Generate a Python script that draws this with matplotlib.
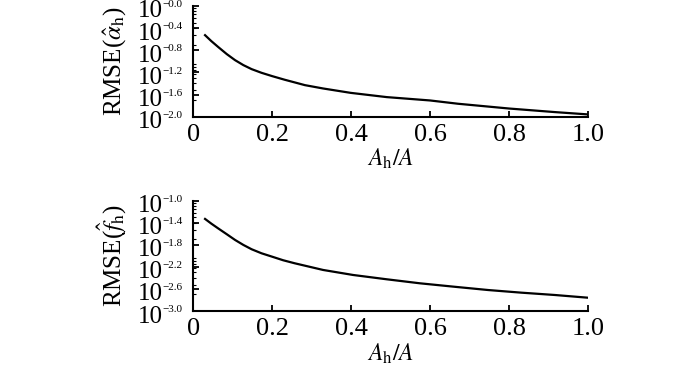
import numpy as np
import matplotlib
matplotlib.use("Agg")
import matplotlib.pyplot as plt
from matplotlib.ticker import FixedLocator, LogLocator, NullFormatter

plt.rcParams['font.family'] = ['Liberation Serif', 'DejaVu Serif']
plt.rcParams['mathtext.fontset'] = 'stix'

# Values
ratio_alpha = [0.03, 0.046, 0.063, 0.085, 0.106, 0.127, 0.148, 0.173, 0.2,
               0.232, 0.257, 0.283, 0.329, 0.399, 0.49, 0.6, 0.671, 0.8,
               0.916, 1.0]
rmse_alpha = [0.296, 0.231, 0.182, 0.135, 0.105, 0.0855, 0.0723, 0.0621,
              0.0541, 0.0465, 0.0417, 0.0372, 0.0324, 0.0270, 0.02265,
              0.0197, 0.01718, 0.0141, 0.01216, 0.01104]

ratio_f = [0.03, 0.046, 0.063, 0.085, 0.106, 0.127, 0.148, 0.173, 0.2,
           0.228, 0.257, 0.329, 0.405, 0.49, 0.574, 0.662, 0.747, 0.831,
           0.916, 1.0]
rmse_f = [0.0468, 0.0384, 0.0316, 0.0247, 0.01945, 0.0158, 0.01318,
          0.01114, 0.00966, 0.00832, 0.00734, 0.00555, 0.00450, 0.00376,
          0.00318, 0.00275, 0.00240, 0.00215, 0.00195, 0.00174]

x_ticks = [0, 0.2, 0.4, 0.6, 0.8, 1.0]
x_labels = ['0', '0.2', '0.4', '0.6', '0.8', '1.0']
exp_alpha = [-2.0, -1.6, -1.2, -0.8, -0.4, -0.0]
exp_f = [-3.0, -2.6, -2.2, -1.8, -1.4, -1.0]
exp_text_alpha = ['\u22122.0', '\u22121.6', '\u22121.2', '\u22120.8', '\u22120.4', '\u22120.0']
exp_text_f = ['\u22123.0', '\u22122.6', '\u22122.2', '\u22121.8', '\u22121.4', '\u22121.0']


def style_axis(ax, exps, exp_texts, ylabel):
    ax.set_yscale('log')
    ax.set_xlim(0, 1.0)
    ax.set_ylim(10**exps[0], 10**exps[-1])
    ax.spines['top'].set_visible(False)
    ax.spines['right'].set_visible(False)
    for s in ['left', 'bottom']:
        ax.spines[s].set_linewidth(1.5)
    ax.set_xticks(x_ticks)
    ax.set_xticklabels(x_labels, fontsize=19)
    ax.yaxis.set_major_locator(FixedLocator([10**e for e in exps]))
    ax.yaxis.set_major_formatter(NullFormatter())
    ax.yaxis.set_minor_locator(LogLocator(base=10, subs=np.arange(2, 10)))
    ax.yaxis.set_minor_formatter(NullFormatter())
    ax.tick_params(axis='both', which='major', direction='in', length=4,
                   width=1.3)
    ax.tick_params(axis='y', which='minor', direction='in', length=2,
                   width=0.8)
    ax.tick_params(axis='x', pad=5)

    # y tick labels: big "10" with a small exponent
    for e, t in zip(exps, exp_texts):
        ax.annotate('10', xy=(0, 10**e), xycoords=('axes fraction', 'data'),
                    xytext=(-22, -4), textcoords='offset points',
                    ha='right', va='center', fontsize=18,
                    annotation_clip=False)
        ax.annotate(t, xy=(0, 10**e), xycoords=('axes fraction', 'data'),
                    xytext=(-22, 1), textcoords='offset points',
                    ha='left', va='center', fontsize=8,
                    annotation_clip=False)

    ax.set_xlabel(r'$A_\mathrm{h}/A$', fontsize=17, labelpad=1)
    ax.set_ylabel(ylabel, fontsize=18)
    ax.yaxis.set_label_coords(-0.163, 0.5)


fig = plt.figure(figsize=(7, 3.65), dpi=100)
ax1 = fig.add_axes([0.276, 0.680, 0.564, 0.304])
ax2 = fig.add_axes([0.276, 0.148, 0.564, 0.302])

ax1.plot(ratio_alpha, rmse_alpha, color='black', linewidth=1.6)
style_axis(ax1, exp_alpha, exp_text_alpha, r'RMSE($\hat{\alpha}_\mathrm{h}$)')

ax2.plot(ratio_f, rmse_f, color='black', linewidth=1.6)
style_axis(ax2, exp_f, exp_text_f, r'RMSE($\hat{f}_\mathrm{h}$)')

fig.savefig('out.png', dpi=100)
